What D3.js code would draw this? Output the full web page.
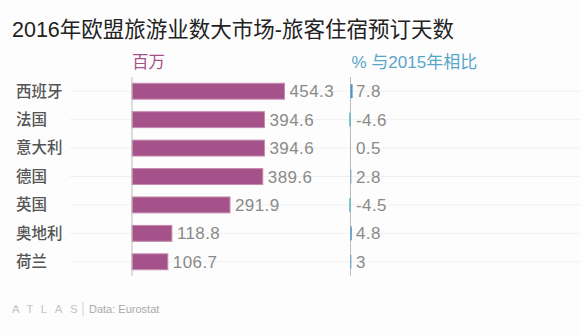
<!DOCTYPE html>
<html>
<head>
<meta charset="utf-8">
<script src="https://cdn.jsdelivr.net/npm/d3@7"></script>
<style>
  html, body { margin: 0; padding: 0; background: #fdfdfd; }
  svg { display: block; }
  text { font-family: "Liberation Sans", "Noto Sans CJK SC", sans-serif; }
</style>
</head>
<body>
<svg id="chart" width="580" height="336"></svg>
<script>
// Nights spent in tourist accommodation, 2016 (millions) and change vs 2015 (%)
const countries = ["西班牙", "法国", "意大利", "德国", "英国", "奥地利", "荷兰"];
const nights = [454.3, 394.6, 394.6, 389.6, 291.9, 118.8, 106.7];
const change = [7.8, -4.6, 0.5, 2.8, -4.5, 4.8, 3];
const changeLabels = ["7.8", "-4.6", "0.5", "2.8", "-4.5", "4.8", "3"];

const svg = d3.select("#chart");
const W = 580;

// title
svg.append("text")
  .attr("x", 12).attr("y", 36.5)
  .attr("font-family", "'Noto Sans CJK SC', 'Liberation Sans', sans-serif")
  .attr("font-size", 21.5).attr("fill", "#222")
  .text("2016年欧盟旅游业数大市场-旅客住宿预订天数");

// row layout
const y = d3.scaleBand().domain(countries).range([77, 276]).paddingInner(0.44).paddingOuter(0.22);
const x = d3.scaleLinear().domain([0, 454.3]).range([132, 284.5]);
const xc = d3.scaleLinear().domain([0, 10]).range([350.5, 353.2]);

// faint row guides
svg.append("g").selectAll("line").data(countries).join("line")
  .attr("x1", 70).attr("x2", W)
  .attr("y1", d => y(d) + y.bandwidth() / 2).attr("y2", d => y(d) + y.bandwidth() / 2)
  .attr("stroke", "#f0f0f0").attr("stroke-width", 1);

// column headers
svg.append("text").attr("x", 132).attr("y", 68)
  .attr("font-family", "'Noto Sans CJK SC', sans-serif")
  .attr("font-size", 16.5).attr("fill", "#a5508a").text("百万");
svg.append("text").attr("x", 351.5).attr("y", 68)
  .attr("font-size", 17).attr("fill", "#5aa6c9").text("% 与2015年相比");

// country labels
svg.append("g").selectAll("text").data(countries).join("text")
  .attr("x", 16).attr("y", d => y(d) + y.bandwidth() / 2)
  .attr("dy", "0.35em")
  .attr("font-family", "'Noto Sans CJK SC', sans-serif")
  .attr("font-weight", 500)
  .attr("font-size", 15.5).attr("fill", "#555")
  .text(d => d);

// main bars
svg.append("g").selectAll("rect").data(nights).join("rect")
  .attr("x", x(0))
  .attr("y", (d, i) => y(countries[i]))
  .attr("width", d => x(d) - x(0))
  .attr("height", y.bandwidth())
  .attr("fill", "#a5528a")
  .attr("stroke", "#c58cb0").attr("stroke-width", 1);

// value labels
svg.append("g").selectAll("text").data(nights).join("text")
  .attr("x", d => x(d) + 5)
  .attr("y", (d, i) => y(countries[i]) + y.bandwidth() / 2)
  .attr("dy", "0.36em")
  .attr("font-size", 17).attr("fill", "#8a8a8a")
  .attr("letter-spacing", 0.4)
  .text(d => d.toFixed(1));

// axis lines
const axisTop = 77, axisBottom = 276;
svg.append("line").attr("x1", 132).attr("x2", 132).attr("y1", axisTop).attr("y2", axisBottom)
  .attr("stroke", "#bbb").attr("stroke-width", 1);
svg.append("line").attr("x1", xc(0)).attr("x2", xc(0)).attr("y1", axisTop).attr("y2", axisBottom)
  .attr("stroke", "#bbb").attr("stroke-width", 1);

// change bars
svg.append("g").selectAll("rect").data(change).join("rect")
  .attr("x", d => Math.min(xc(0), xc(d)))
  .attr("y", (d, i) => y(countries[i]) + 1)
  .attr("width", d => Math.abs(xc(d) - xc(0)))
  .attr("height", y.bandwidth() - 2)
  .attr("fill", d => d >= 0 ? "#4a94cc" : "#49b6c4");

// change labels
svg.append("g").selectAll("text").data(changeLabels).join("text")
  .attr("x", 356)
  .attr("y", (d, i) => y(countries[i]) + y.bandwidth() / 2)
  .attr("dy", "0.36em")
  .attr("font-size", 17).attr("fill", "#8a8a8a")
  .attr("letter-spacing", 0.4)
  .text(d => d);

// footer
svg.append("text").attr("x", 12).attr("y", 313)
  .attr("font-size", 11.5).attr("font-weight", 300)
  .attr("letter-spacing", 7.5).attr("fill", "#c4c4c4")
  .text("ATLAS");
svg.append("line").attr("x1", 83).attr("x2", 83).attr("y1", 302).attr("y2", 316)
  .attr("stroke", "#d0d0d0");
svg.append("text").attr("x", 89).attr("y", 313)
  .attr("font-size", 11).attr("fill", "#aaa")
  .text("Data: Eurostat");
</script>
</body>
</html>
